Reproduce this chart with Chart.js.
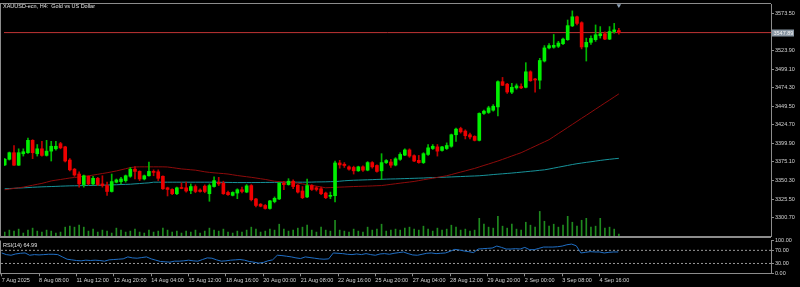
<!DOCTYPE html>
<html>
<head>
<meta charset="utf-8">
<script src="https://cdn.jsdelivr.net/npm/chart.js@4.4.0/dist/chart.umd.min.js"></script>
<style>
  body { margin: 0; background: #000; width: 800px; height: 287px; overflow: hidden; position: relative; }
  canvas { position: absolute; left: 0; }
  .lbl { position: absolute; font: 5.5px "Liberation Sans", Arial, sans-serif; color: #e2e2e2; white-space: pre; }
</style>
</head>
<body>
<canvas id="main" width="800" height="240" style="top:0"></canvas>
<canvas id="rsi" width="800" height="51" style="top:236px"></canvas>
<div class="lbl" style="left:3px;top:3px">XAUUSD-ecn, H4:  Gold vs US Dollar</div>
<div class="lbl" style="left:3px;top:242px">RSI(14) 64.99</div>
<script>
// XAUUSD H4, 7 Aug - 4 Sep 2025
const opens = [
  3371.1, 3378.6, 3387.4, 3370.7, 3386.0, 3387.4, 3403.9, 3386.0, 3392.6, 3383.8,
  3389.5, 3392.6, 3399.5, 3395.2, 3377.6, 3365.4, 3358.9, 3344.8, 3355.9, 3345.7,
  3353.2, 3345.7, 3343.5, 3335.6, 3348.0, 3348.8, 3350.1, 3355.9, 3365.4, 3362.4,
  3352.3, 3356.6, 3362.4, 3361.9, 3355.9, 3340.5, 3338.3, 3332.6, 3340.5, 3340.5,
  3336.9, 3342.2, 3337.5, 3342.7, 3332.6, 3342.2, 3348.0, 3346.7, 3334.3, 3330.4,
  3333.5, 3337.9, 3334.8, 3343.5, 3325.6, 3318.6, 3316.9, 3312.9, 3322.1, 3325.6,
  3346.7, 3344.8, 3349.3, 3344.0, 3336.2, 3328.3, 3343.5, 3340.5, 3339.2, 3333.5,
  3329.1, 3330.0, 3373.7, 3372.0, 3368.5, 3367.7, 3363.2, 3368.5, 3364.1, 3374.2,
  3370.3, 3363.2, 3374.2, 3375.0, 3370.9, 3378.6, 3384.2, 3391.1, 3383.4, 3377.2,
  3374.2, 3385.1, 3393.0, 3395.2, 3390.4, 3393.0, 3396.0, 3411.4, 3419.7, 3416.3,
  3411.4, 3409.2, 3403.9, 3439.9, 3441.2, 3444.2, 3448.6, 3482.3, 3479.0, 3468.3,
  3474.0, 3475.8, 3474.8, 3495.5, 3485.9, 3484.3, 3509.9, 3527.4, 3528.3, 3529.6,
  3533.1, 3538.4, 3556.8, 3569.0, 3561.1, 3528.7, 3534.9, 3538.4, 3543.7, 3546.3,
  3539.2, 3549.3, 3550.6
];
const highs = [
  3379.9, 3388.3, 3397.0, 3392.6, 3392.6, 3407.1, 3404.8, 3398.3, 3402.6, 3403.9,
  3402.6, 3402.6, 3401.3, 3396.0, 3379.5, 3366.4, 3361.9, 3357.6, 3356.6, 3355.9,
  3354.5, 3356.6, 3348.0, 3358.9, 3352.3, 3354.5, 3357.6, 3367.7, 3369.0, 3363.2,
  3357.6, 3375.0, 3364.5, 3364.5, 3356.6, 3341.4, 3339.2, 3341.4, 3347.1, 3348.0,
  3345.7, 3344.4, 3339.2, 3344.4, 3345.7, 3355.3, 3354.5, 3349.3, 3336.2, 3335.2,
  3339.2, 3341.4, 3344.8, 3344.8, 3326.4, 3319.5, 3318.2, 3323.8, 3328.3, 3348.0,
  3349.3, 3352.7, 3351.0, 3344.8, 3342.2, 3352.3, 3344.8, 3342.2, 3341.4, 3334.8,
  3334.8, 3376.3, 3377.2, 3374.2, 3369.8, 3369.4, 3369.4, 3369.8, 3375.5, 3375.5,
  3371.1, 3386.1, 3378.2, 3378.6, 3380.8, 3387.4, 3392.6, 3392.6, 3384.7, 3383.8,
  3387.4, 3398.3, 3398.3, 3398.3, 3396.0, 3400.5, 3412.3, 3420.2, 3421.5, 3418.0,
  3413.6, 3410.1, 3440.7, 3444.2, 3449.5, 3451.7, 3483.6, 3488.0, 3480.1, 3480.1,
  3479.3, 3479.3, 3507.7, 3496.8, 3486.7, 3513.5, 3530.5, 3533.1, 3545.4, 3536.2,
  3540.5, 3564.7, 3576.9, 3569.9, 3562.4, 3540.5, 3543.7, 3558.1, 3555.9, 3548.9,
  3555.9, 3560.2, 3553.6
];
const lows = [
  3370.0, 3377.6, 3370.3, 3370.3, 3382.9, 3386.5, 3379.5, 3382.9, 3382.9, 3382.9,
  3376.3, 3390.8, 3392.6, 3375.0, 3363.2, 3355.9, 3341.4, 3341.4, 3344.4, 3344.4,
  3343.5, 3341.4, 3330.4, 3334.8, 3347.1, 3345.7, 3348.0, 3354.5, 3352.3, 3350.1,
  3351.0, 3355.9, 3356.6, 3350.1, 3338.3, 3329.6, 3331.3, 3331.3, 3339.2, 3334.8,
  3332.6, 3333.9, 3334.8, 3333.9, 3322.5, 3341.4, 3343.5, 3331.7, 3330.4, 3329.6,
  3326.0, 3333.5, 3333.9, 3323.0, 3315.1, 3315.1, 3312.0, 3312.0, 3320.4, 3324.7,
  3337.9, 3344.0, 3339.2, 3333.5, 3326.0, 3327.3, 3336.9, 3336.2, 3331.3, 3326.0,
  3326.0, 3321.7, 3366.7, 3367.7, 3364.1, 3358.9, 3362.4, 3362.4, 3363.2, 3366.7,
  3361.5, 3351.4, 3372.9, 3367.7, 3369.8, 3377.2, 3383.4, 3381.2, 3375.5, 3373.3,
  3372.9, 3383.8, 3391.7, 3382.9, 3389.5, 3391.7, 3394.7, 3402.6, 3413.6, 3405.8,
  3405.8, 3403.1, 3403.1, 3438.6, 3439.9, 3442.9, 3436.4, 3477.1, 3466.6, 3466.2,
  3472.2, 3473.1, 3474.0, 3482.7, 3468.3, 3472.7, 3508.6, 3526.1, 3527.0, 3527.9,
  3531.8, 3537.5, 3555.9, 3558.1, 3526.1, 3509.9, 3532.2, 3536.2, 3540.5, 3538.4,
  3538.4, 3547.1, 3545.8
];
const closes = [
  3378.6, 3387.4, 3370.7, 3387.4, 3388.7, 3403.9, 3387.4, 3392.6, 3383.8, 3389.5,
  3396.0, 3396.0, 3393.9, 3376.3, 3364.5, 3357.6, 3345.7, 3356.6, 3345.7, 3353.2,
  3344.8, 3343.5, 3335.6, 3348.8, 3351.0, 3352.3, 3356.6, 3365.4, 3362.4, 3352.3,
  3356.6, 3362.4, 3361.1, 3353.2, 3339.2, 3338.3, 3332.6, 3340.5, 3339.6, 3336.2,
  3342.2, 3335.6, 3335.6, 3335.6, 3343.5, 3350.1, 3345.7, 3332.6, 3331.3, 3334.3,
  3337.9, 3335.6, 3343.1, 3324.7, 3316.9, 3315.9, 3312.9, 3323.0, 3326.4, 3346.7,
  3344.8, 3349.3, 3342.2, 3334.8, 3327.3, 3343.5, 3338.3, 3338.3, 3332.6, 3327.3,
  3330.4, 3373.7, 3371.1, 3370.3, 3365.4, 3363.2, 3368.5, 3364.1, 3374.2, 3368.5,
  3362.4, 3374.2, 3376.9, 3370.7, 3379.2, 3385.1, 3391.1, 3382.9, 3376.3, 3374.2,
  3386.1, 3393.9, 3396.0, 3389.5, 3395.2, 3397.0, 3411.4, 3418.9, 3415.3, 3410.1,
  3408.4, 3403.9, 3439.9, 3442.9, 3447.3, 3449.5, 3482.3, 3477.5, 3468.5, 3474.8,
  3476.7, 3474.0, 3495.5, 3483.6, 3484.6, 3510.6, 3527.4, 3530.5, 3530.9, 3533.9,
  3539.2, 3557.2, 3569.0, 3560.2, 3528.7, 3534.9, 3540.1, 3545.0, 3546.3, 3539.2,
  3549.3, 3551.5, 3547.89
];
// tick volumes
const volumes = [
  800, 1200, 1000, 1400, 600, 1200, 1600, 1000, 800, 1200,
  1000, 600, 800, 1800, 2000, 1800, 2200, 1800, 1000, 1400,
  800, 1200, 1000, 600, 1600, 1200, 800, 1000, 1400, 800,
  600, 1200, 800, 1000, 1600, 1200, 800, 1000, 600, 1000,
  800, 1200, 600, 1000, 1600, 1200, 1000, 1400, 800, 600,
  1000, 800, 1200, 1800, 1400, 800, 1000, 1400, 1200, 2400,
  1400, 1000, 1200, 1600, 1800, 2200, 1200, 800, 1800, 1200,
  1000, 3200, 1200, 1000, 800, 1400, 1000, 800, 1800, 1200,
  1400, 2400, 1000, 1200, 1400, 1200, 1600, 1800, 1400, 1200,
  2000, 1400, 1000, 1600, 1200, 1400, 2200, 1800, 1200, 1400,
  1000, 1200, 3600, 2400, 1800, 1600, 4000, 2000, 1600, 2400,
  1400, 1200, 2800, 2200, 1800, 5000, 3000, 2000, 2400, 1800,
  2200, 4000, 2800, 2000, 3200, 3600, 1800, 2000, 3600, 1600,
  1800, 1400, 400
];
// moving averages
const maRed = [
  3337.9, 3338.8, 3339.7, 3340.5, 3341.4, 3342.7, 3343.9, 3345.2, 3346.4, 3348.0,
  3349.7, 3350.7, 3351.6, 3352.6, 3353.6, 3354.3, 3355.0, 3355.8, 3356.5, 3357.5,
  3358.5, 3359.6, 3360.6, 3361.8, 3363.0, 3364.5, 3366.0, 3367.5, 3368.3, 3368.5,
  3368.5, 3368.5, 3368.5, 3368.5, 3368.5, 3368.3, 3367.5, 3366.6, 3365.7, 3365.2,
  3364.6, 3364.1, 3363.0, 3361.9, 3361.1, 3360.5, 3360.0, 3359.5, 3358.9, 3357.9,
  3356.9, 3356.1, 3355.3, 3354.5, 3353.6, 3352.6, 3351.7, 3350.5, 3349.3, 3348.8,
  3348.3, 3347.8, 3347.2, 3346.7, 3345.7, 3344.7, 3343.7, 3342.7, 3341.6, 3340.5,
  3340.8, 3341.1, 3341.4, 3341.6, 3341.9, 3342.2, 3342.4, 3342.6, 3342.8, 3343.0,
  3343.3, 3343.5, 3344.3, 3345.1, 3345.9, 3346.7, 3347.5, 3348.2, 3349.0, 3350.1,
  3351.2, 3352.3, 3353.3, 3354.4, 3355.5, 3356.6, 3358.2, 3359.9, 3361.5, 3363.1,
  3364.8, 3366.4, 3368.4, 3370.4, 3372.3, 3374.3, 3376.3, 3378.5, 3380.7, 3383.0,
  3385.2, 3387.4, 3390.3, 3393.2, 3396.1, 3399.0, 3401.9, 3404.8, 3408.9, 3413.0,
  3417.0, 3421.1, 3425.2, 3429.3, 3433.4, 3437.4, 3441.5, 3445.6, 3449.7, 3453.8,
  3457.8, 3461.9, 3466.0
];
const maTeal = [
  3339.2, 3339.5, 3339.8, 3340.2, 3340.5, 3340.8, 3341.2, 3341.5, 3341.8, 3342.0,
  3342.2, 3342.4, 3342.7, 3342.9, 3343.1, 3343.2, 3343.3, 3343.5, 3343.6, 3343.7,
  3343.9, 3344.0, 3344.2, 3344.4, 3344.6, 3344.9, 3345.1, 3345.3, 3345.8, 3346.2,
  3346.7, 3347.1, 3348.0, 3348.0, 3348.0, 3348.0, 3348.0, 3348.0, 3348.0, 3348.0,
  3348.0, 3348.0, 3348.0, 3348.0, 3348.0, 3348.0, 3347.9, 3347.8, 3347.7, 3347.6,
  3347.5, 3347.5, 3347.5, 3347.5, 3347.6, 3347.6, 3347.7, 3347.7, 3347.8, 3347.8,
  3347.9, 3347.9, 3348.0, 3348.0, 3348.0, 3348.0, 3348.1, 3348.3, 3348.4, 3348.5,
  3348.7, 3348.8, 3349.3, 3349.9, 3350.3, 3350.6, 3350.8, 3351.0, 3351.2, 3351.4,
  3351.7, 3351.9, 3352.1, 3352.3, 3352.4, 3352.6, 3352.8, 3353.0, 3353.2, 3353.4,
  3353.6, 3353.9, 3354.1, 3354.3, 3354.5, 3354.8, 3355.0, 3355.3, 3355.5, 3355.8,
  3356.1, 3356.3, 3356.6, 3357.1, 3357.6, 3358.2, 3358.7, 3359.2, 3359.7, 3360.2,
  3360.8, 3361.4, 3362.0, 3362.6, 3363.2, 3363.9, 3364.5, 3365.6, 3366.8, 3368.0,
  3369.2, 3370.4, 3371.6, 3372.7, 3373.6, 3374.5, 3375.3, 3376.2, 3377.1, 3377.9,
  3378.6, 3379.3, 3379.9
];
const rsi = [
  62, 57, 55, 59, 61, 62, 55, 57, 56, 57,
  58, 58, 57, 50, 43, 41, 39, 38, 40, 39,
  40, 39, 37, 41, 42, 43, 44, 50, 47, 46,
  48, 50, 44, 40, 36, 35, 34, 37, 37, 38,
  40, 38, 37, 42, 47, 46, 41, 37, 38, 40,
  41, 42, 40, 36, 34, 31, 33, 38, 41, 55,
  54, 52, 50, 47, 45, 50, 48, 46, 44, 43,
  44, 62, 61, 60, 58, 57, 59, 57, 60, 57,
  55, 59, 60, 58, 61, 63, 65, 60, 56, 55,
  58, 61, 62, 60, 61, 62, 67, 73, 71, 68,
  66, 63, 74, 75, 76, 77, 83, 79, 74, 74,
  75, 74, 79, 72, 72, 76, 80, 80, 80, 81,
  83, 87, 89, 84, 62, 64, 66, 65, 65, 62,
  64, 65, 64.99
];
const rsiLevels = [70, 30];
const priceTicks = [3300.70, 3325.50, 3350.30, 3375.10, 3399.90, 3424.70, 3449.50, 3474.30, 3499.10, 3523.90, 3573.50];
const rsiTicks = [100, 70, 30, 0];
const timeTickBars = [0, 8, 16, 24, 32, 40, 48, 56, 64, 72, 80, 88, 96, 104, 112, 120, 128];
const timeTickLabels = [
  "7 Aug 2025", "8 Aug 08:00", "11 Aug 12:00", "12 Aug 20:00", "14 Aug 04:00", "15 Aug 12:00",
  "18 Aug 16:00", "20 Aug 00:00", "21 Aug 08:00", "22 Aug 16:00", "25 Aug 20:00", "27 Aug 04:00",
  "28 Aug 12:00", "29 Aug 20:00", "2 Sep 00:00", "3 Sep 08:00", "4 Sep 16:00"
];

const bid = closes[closes.length - 1];
const xMin = -0.15;
const xMax = 164.7;
const priceMin = 3276.1;
const priceMax = 3586.1;
const volMax = 47200;

const axisGray = "#8c8c8c";
const textGray = "#d4d4d4";

Chart.defaults.font.family = "'Liberation Sans', Arial, sans-serif";
Chart.defaults.font.size = 5.5;
Chart.defaults.color = textGray;

const isBull = (i) => closes[i] >= opens[i];
const xy = (arr) => arr.map((v, i) => ({x: i, y: v}));

// gray frame round the panels
const framePlugin = {
  id: "frame",
  afterDraw(chart, args, opts) {
    const {ctx, chartArea: a} = chart;
    ctx.save();
    ctx.fillStyle = axisGray;
    ctx.fillRect(0, opts.top ? a.top - 1 : a.top, 1, a.bottom - a.top + 1);
    if (opts.top) ctx.fillRect(0, a.top - 1, a.right, 1);
    if (opts.bottom) ctx.fillRect(0, a.bottom, a.right, 2);
    ctx.restore();
  }
};

// box with the last price on the price axis
const bidPlugin = {
  id: "bidBox",
  afterDraw(chart) {
    const {ctx, chartArea: a} = chart;
    const y = Math.round(chart.scales.y.getPixelForValue(bid));
    ctx.save();
    ctx.fillStyle = "#8895a2";
    ctx.fillRect(a.right + 1, y - 3.5, 22, 7);
    ctx.fillStyle = "#f2f2f2";
    ctx.font = "5.5px 'Liberation Sans', Arial, sans-serif";
    ctx.textBaseline = "middle";
    ctx.fillText(bid.toFixed(2), a.right + 2.5, y + 0.3);
    ctx.restore();
  }
};

function noPad(scale) {
  scale.paddingTop = 0;
  scale.paddingBottom = 0;
  scale.paddingLeft = 0;
  scale.paddingRight = 0;
}

new Chart(document.getElementById("main"), {
  type: "bar",
  data: {
    datasets: [
      {
        type: "bar",
        data: opens.map((o, i) => ({x: i, y: [o, closes[i]]})),
        backgroundColor: (c) => isBull(c.dataIndex) ? "#00f000" : "#ee0000",
        barThickness: 3,
        minBarLength: 1,
        grouped: false,
        order: 0
      },
      {
        type: "bar",
        data: lows.map((l, i) => ({x: i, y: [l, highs[i]]})),
        backgroundColor: (c) => isBull(c.dataIndex) ? "#00b800" : "#c00000",
        barThickness: 1,
        grouped: false,
        order: 1
      },
      {
        type: "line",
        data: xy(maRed),
        borderColor: "#8e0b0b",
        borderWidth: 1,
        pointRadius: 0,
        order: 2
      },
      {
        type: "line",
        data: xy(maTeal),
        borderColor: "#17939a",
        borderWidth: 1,
        pointRadius: 0,
        order: 2
      },
      {
        type: "line",
        data: [{x: xMin, y: bid}, {x: xMax, y: bid}],
        borderColor: "#c03434",
        borderWidth: 1,
        pointRadius: 0,
        order: 3
      },
      {
        type: "bar",
        data: xy(volumes),
        backgroundColor: "#1f8a1f",
        barThickness: 1,
        grouped: false,
        yAxisID: "yVol",
        order: 4
      },
      {
        type: "scatter",
        data: [{x: closes.length - 1, y: priceMax - 2}],
        pointStyle: "triangle",
        rotation: 180,
        radius: 2.6,
        backgroundColor: "#8fa2b6",
        borderWidth: 0,
        clip: false,
        order: 0
      }
    ]
  },
  options: {
    responsive: false,
    animation: false,
    events: [],
    layout: {padding: {left: 1, top: 2, bottom: 2, right: 0}},
    plugins: {
      legend: {display: false},
      tooltip: {enabled: false},
      frame: {top: true, bottom: true}
    },
    scales: {
      x: {type: "linear", min: xMin, max: xMax, offset: false, display: false},
      y: {
        position: "right",
        min: priceMin,
        max: priceMax,
        afterBuildTicks: (s) => { s.ticks = priceTicks.map((v) => ({value: v})); },
        afterFit: (s) => { s.width = 29; noPad(s); },
        ticks: {color: textGray, padding: 1, callback: (v) => Number(v).toFixed(2)},
        grid: {drawOnChartArea: false, color: axisGray, tickLength: 3},
        border: {color: axisGray}
      },
      yVol: {type: "linear", display: false, min: 0, max: volMax}
    }
  },
  plugins: [framePlugin, bidPlugin]
});

new Chart(document.getElementById("rsi"), {
  type: "line",
  data: {
    datasets: [
      {data: xy(rsi), borderColor: "#1f6ec4", borderWidth: 1, pointRadius: 0},
      ...rsiLevels.map((lv) => ({
        data: [{x: xMin, y: lv}, {x: xMax, y: lv}],
        borderColor: "#9a9a9a",
        borderWidth: 1,
        borderDash: [2, 2],
        pointRadius: 0
      }))
    ]
  },
  options: {
    responsive: false,
    animation: false,
    events: [],
    layout: {padding: {left: 1, top: 4.5, right: 0, bottom: 0}},
    plugins: {
      legend: {display: false},
      tooltip: {enabled: false},
      frame: {top: false, bottom: false}
    },
    scales: {
      x: {
        type: "linear",
        min: xMin,
        max: xMax,
        offset: false,
        afterBuildTicks: (s) => { s.ticks = timeTickBars.map((v) => ({value: v})); },
        afterFit: (s) => { s.height = 13.7; noPad(s); },
        ticks: {
          color: textGray,
          align: "start",
          autoSkip: false,
          maxRotation: 0,
          padding: 0.5,
          callback: (v) => timeTickLabels[timeTickBars.indexOf(v)]
        },
        grid: {drawOnChartArea: false, color: axisGray, tickLength: 3},
        border: {color: axisGray, width: 1}
      },
      y: {
        position: "right",
        min: 0,
        max: 100,
        afterBuildTicks: (s) => { s.ticks = rsiTicks.map((v) => ({value: v})); },
        afterFit: (s) => { s.width = 29; noPad(s); },
        ticks: {color: textGray, padding: 1, callback: (v) => Number(v).toFixed(2)},
        grid: {drawOnChartArea: false, color: axisGray, tickLength: 3},
        border: {color: axisGray}
      }
    }
  },
  plugins: [framePlugin]
});
</script>
</body>
</html>
